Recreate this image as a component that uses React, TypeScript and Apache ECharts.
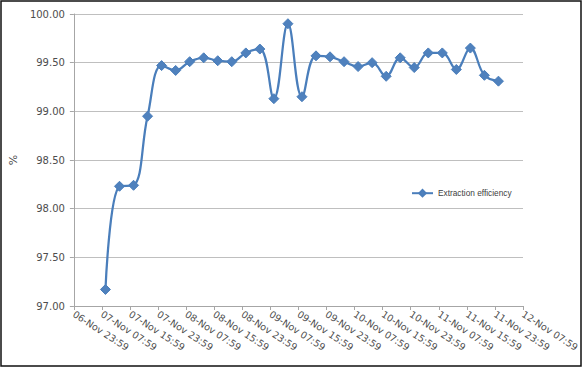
import React, { useEffect, useRef } from "react";
import * as echarts from "echarts";

const times = [
  "07-Nov 08:59", "07-Nov 12:59", "07-Nov 16:59", "07-Nov 20:59",
  "08-Nov 00:59", "08-Nov 04:59", "08-Nov 08:59", "08-Nov 12:59",
  "08-Nov 16:59", "08-Nov 20:59", "09-Nov 00:59", "09-Nov 04:59",
  "09-Nov 08:59", "09-Nov 12:59", "09-Nov 16:59", "09-Nov 20:59",
  "10-Nov 00:59", "10-Nov 04:59", "10-Nov 08:59", "10-Nov 12:59",
  "10-Nov 16:59", "10-Nov 20:59", "11-Nov 00:59", "11-Nov 04:59",
  "11-Nov 08:59", "11-Nov 12:59", "11-Nov 16:59", "11-Nov 20:59",
  "12-Nov 00:59",
];

const efficiency = [
  97.17, 98.23, 98.24, 98.95, 99.47, 99.42, 99.51, 99.55,
  99.52, 99.51, 99.60, 99.64, 99.13, 99.90, 99.15, 99.57,
  99.56, 99.51, 99.46, 99.50, 99.36, 99.55, 99.45, 99.60,
  99.60, 99.43, 99.65, 99.37, 99.31,
];

const xTickLabels = [
  "06-Nov 23:59", "07-Nov 07:59", "07-Nov 15:59", "07-Nov 23:59",
  "08-Nov 07:59", "08-Nov 15:59", "08-Nov 23:59", "09-Nov 07:59",
  "09-Nov 15:59", "09-Nov 23:59", "10-Nov 07:59", "10-Nov 15:59",
  "10-Nov 23:59", "11-Nov 07:59", "11-Nov 15:59", "11-Nov 23:59",
  "12-Nov 07:59",
];

const seriesName = "Extraction efficiency";
const yTickStep = 0.5;
const xTickStepHours = 8;

// hours elapsed since the first tick label (06-Nov 23:59)
function toHours(s: string): number {
  const [dPart, tPart] = s.split(" ");
  const day = parseInt(dPart.split("-")[0], 10);
  const [hh, mm] = tPart.split(":").map((v) => parseInt(v, 10));
  const origin = 6 * 1440 + 23 * 60 + 59;
  return (day * 1440 + hh * 60 + mm - origin) / 60;
}

export default function App() {
  const ref = useRef<HTMLDivElement>(null);
  useEffect(() => {
    if (!ref.current) return;
    const chart = echarts.init(ref.current, undefined, { renderer: "svg" });
    const data = times.map((t, i) => [toHours(t), efficiency[i]]);
    const labelColor = "#4d4d4d";
    chart.setOption({
      animation: false,
      backgroundColor: "#ffffff",
      textStyle: { fontFamily: "DejaVu Sans" },
      graphic: [
        {
          type: "rect",
          shape: { x: 1, y: 1, width: 580, height: 365 },
          style: { fill: "none", stroke: "#111111", lineWidth: 1.5 },
          silent: true,
        },
      ],
      grid: { left: 67, right: 61, top: 14, bottom: 63, containLabel: false },
      legend: {
        left: 411,
        top: 189,
        padding: 0,
        itemWidth: 21,
        itemHeight: 8,
        data: [seriesName],
        textStyle: { fontFamily: "Liberation Sans", fontSize: 8.3, color: "#404040" },
      },
      xAxis: {
        type: "value",
        min: 0,
        max: (xTickLabels.length - 1) * xTickStepHours,
        interval: xTickStepHours,
        axisLine: { show: true, lineStyle: { color: "#a6a6a6", width: 1 } },
        axisTick: { show: true, length: 4, lineStyle: { color: "#a6a6a6" } },
        splitLine: { show: false },
        axisLabel: {
          rotate: -33,
          margin: 7,
          fontSize: 9.5,
          color: labelColor,
          fontFamily: "DejaVu Sans",
          showMinLabel: true,
          showMaxLabel: true,
          formatter: (v: number) => xTickLabels[Math.round(v / xTickStepHours)] ?? "",
        },
      },
      yAxis: {
        type: "value",
        min: 97,
        max: 100,
        interval: yTickStep,
        name: "%",
        nameLocation: "middle",
        nameGap: 52,
        nameTextStyle: { fontSize: 11, color: labelColor, fontFamily: "DejaVu Sans" },
        axisLine: { show: true, lineStyle: { color: "#a6a6a6", width: 1 } },
        axisTick: { show: true, length: 4, lineStyle: { color: "#a6a6a6" } },
        splitLine: { show: true, lineStyle: { color: "#bfbfbf", width: 1.2 } },
        axisLabel: {
          margin: 9,
          fontSize: 10,
          color: labelColor,
          fontFamily: "DejaVu Sans",
          formatter: (v: number) => v.toFixed(2),
        },
      },
      series: [
        {
          name: seriesName,
          type: "line",
          data,
          smooth: 0.4,
          symbol: "diamond",
          symbolSize: 10,
          lineStyle: { color: "#4a7ebb", width: 2.25 },
          itemStyle: { color: "#4f81bd", borderColor: "#4a7ebb", borderWidth: 1 },
        },
      ],
    });
    return () => chart.dispose();
  }, []);
  return (
    <div
      ref={ref}
      style={{ position: "absolute", left: 0, top: 0, width: 584, height: 369 }}
    />
  );
}
